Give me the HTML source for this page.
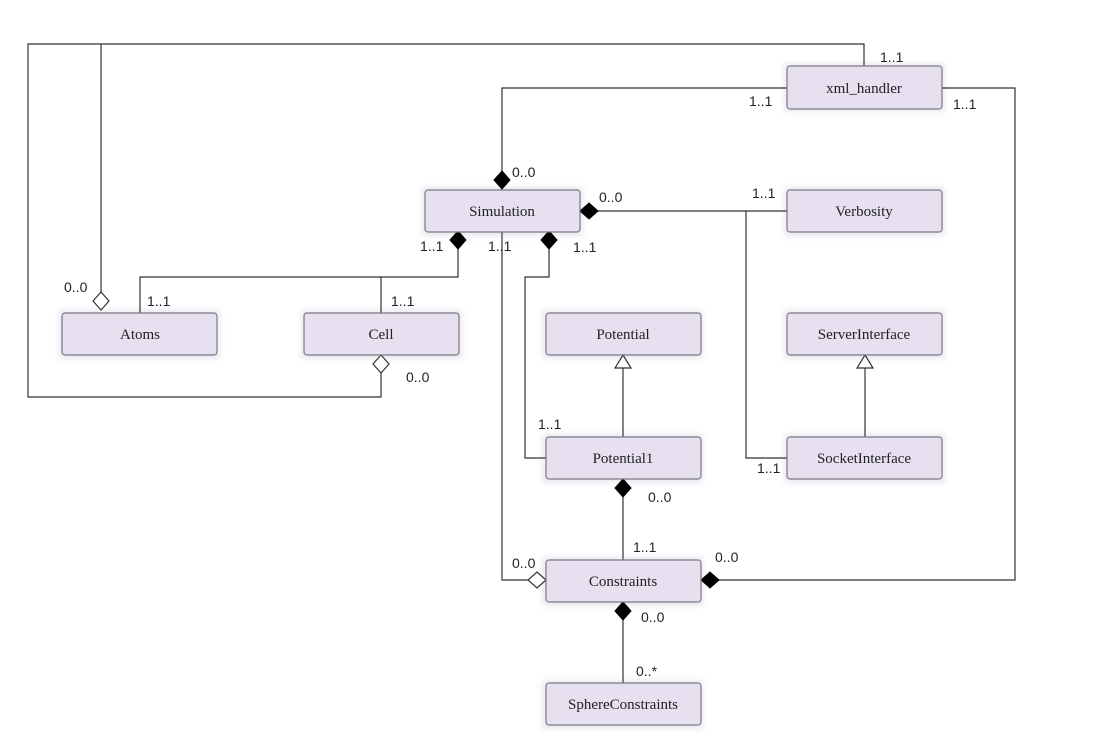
<!DOCTYPE html>
<html><head><meta charset="utf-8"><style>
body{margin:0;background:#fff;width:1097px;height:753px;overflow:hidden}
svg{display:block}
.b{fill:#e6e0f0;stroke:#7a7a82;stroke-width:1.2}
.n{font-family:"Liberation Serif",serif;font-size:15px;fill:#222;text-anchor:middle}
.l{font-family:"Liberation Sans",sans-serif;font-size:14px;fill:#222}
.c{fill:none;stroke:#333;stroke-width:1.2}
</style></head><body>
<svg width="1097" height="753" viewBox="0 0 1097 753">
<defs><filter id="s" x="-10%" y="-30%" width="120%" height="160%"><feGaussianBlur stdDeviation="3"/></filter></defs>
<g fill="#ece8f2" filter="url(#s)">
<rect x="784" y="63" width="161" height="49"/><rect x="422" y="187" width="161" height="49"/><rect x="784" y="187" width="161" height="49"/>
<rect x="59" y="310" width="161" height="49"/><rect x="301" y="310" width="161" height="49"/><rect x="542" y="310" width="161" height="49"/>
<rect x="784" y="310" width="161" height="49"/><rect x="542" y="434" width="161" height="49"/><rect x="784" y="434" width="161" height="49"/>
<rect x="542" y="557" width="161" height="49"/><rect x="542" y="680" width="161" height="49"/>
</g>
<path class="c" d="M864 66V44H28V397H381V372"/>
<path class="c" d="M101 44V308"/>
<path class="c" d="M787 88H502V185"/>
<path class="c" d="M942 88H1015V580H718"/>
<path class="c" d="M597 211H787"/>
<path class="c" d="M746 211V458H787"/>
<path class="c" d="M458 247V277H140V313"/>
<path class="c" d="M381 277V313"/>
<path class="c" d="M502 232V580H529"/>
<path class="c" d="M549 247V277H525V458H546"/>
<path class="c" d="M623 437V368"/>
<path class="c" d="M865 437V368"/>
<path class="c" d="M623 496V560"/>
<path class="c" d="M623 619V683"/>
<g fill="#000" stroke="#000">
<path d="M502 171L510 180L502 189L494 180Z"/>
<path d="M580 211L589 203L598 211L589 219Z"/>
<path d="M458 231L466 240L458 249L450 240Z"/>
<path d="M549 231L557 240L549 249L541 240Z"/>
<path d="M623 479L631 488L623 497L615 488Z"/>
<path d="M623 602L631 611L623 620L615 611Z"/>
<path d="M701 580L710 572L719 580L710 588Z"/>
</g>
<g fill="#fff" stroke="#333" stroke-width="1.2">
<path d="M101 292L109 301L101 310L93 301Z"/>
<path d="M381 355L389 364L381 373L373 364Z"/>
<path d="M546 580L537 572L528 580L537 588Z"/>
<path d="M623 355L631 368L615 368Z"/>
<path d="M865 355L873 368L857 368Z"/>
</g>
<rect class="b" x="787" y="66" width="155" height="43" rx="3"/><text class="n" x="864" y="93">xml_handler</text>
<rect class="b" x="425" y="190" width="155" height="42" rx="3"/><text class="n" x="502" y="216">Simulation</text>
<rect class="b" x="787" y="190" width="155" height="42" rx="3"/><text class="n" x="864" y="216">Verbosity</text>
<rect class="b" x="62" y="313" width="155" height="42" rx="3"/><text class="n" x="140" y="339">Atoms</text>
<rect class="b" x="304" y="313" width="155" height="42" rx="3"/><text class="n" x="381" y="339">Cell</text>
<rect class="b" x="546" y="313" width="155" height="42" rx="3"/><text class="n" x="623" y="339">Potential</text>
<rect class="b" x="787" y="313" width="155" height="42" rx="3"/><text class="n" x="864" y="339">ServerInterface</text>
<rect class="b" x="546" y="437" width="155" height="42" rx="3"/><text class="n" x="623" y="463">Potential1</text>
<rect class="b" x="787" y="437" width="155" height="42" rx="3"/><text class="n" x="864" y="463">SocketInterface</text>
<rect class="b" x="546" y="560" width="155" height="42" rx="3"/><text class="n" x="623" y="586">Constraints</text>
<rect class="b" x="546" y="683" width="155" height="42" rx="3"/><text class="n" x="623" y="709">SphereConstraints</text>
<g class="l">
<text x="880" y="62">1..1</text>
<text x="749" y="106">1..1</text>
<text x="953" y="109">1..1</text>
<text x="512" y="177">0..0</text>
<text x="599" y="202">0..0</text>
<text x="752" y="198">1..1</text>
<text x="420" y="251">1..1</text>
<text x="488" y="251">1..1</text>
<text x="573" y="252">1..1</text>
<text x="64" y="292">0..0</text>
<text x="147" y="306">1..1</text>
<text x="391" y="306">1..1</text>
<text x="406" y="382">0..0</text>
<text x="538" y="429">1..1</text>
<text x="757" y="473">1..1</text>
<text x="648" y="502">0..0</text>
<text x="633" y="552">1..1</text>
<text x="512" y="568">0..0</text>
<text x="715" y="562">0..0</text>
<text x="641" y="622">0..0</text>
<text x="636" y="676">0..*</text>
</g>
</svg>
</body></html>
